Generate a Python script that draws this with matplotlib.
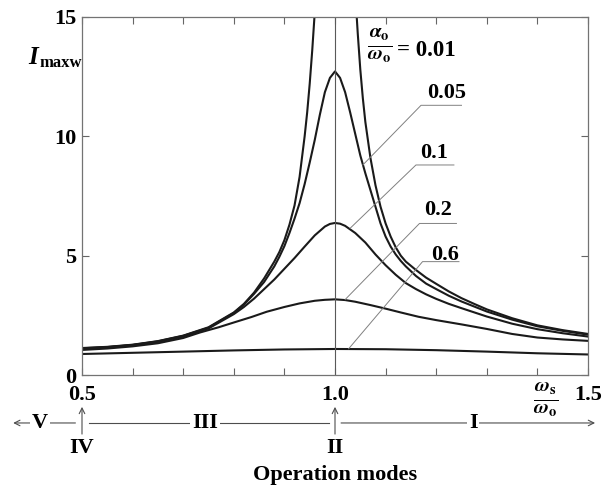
import numpy as np
import matplotlib
matplotlib.use("Agg")
import matplotlib.pyplot as plt

plt.rcParams['font.family'] = ['Liberation Serif', 'DejaVu Serif']
plt.rcParams['font.weight'] = 'bold'
plt.rcParams['mathtext.fontset'] = 'stix'

# ---- data ----
x_001 = [0.50, 0.55, 0.60, 0.65, 0.70, 0.75, 0.80, 0.82, 0.84, 0.86, 0.88, 0.89, 0.90, 0.91, 0.92, 0.93,
         0.94, 0.945, 0.95, 0.955, 0.96, 0.965,
         1.00,
         1.04, 1.045, 1.05, 1.055, 1.06, 1.07, 1.08, 1.09, 1.10, 1.11, 1.12, 1.13, 1.14, 1.16, 1.18, 1.20,
         1.225, 1.25, 1.275, 1.30, 1.35, 1.40, 1.45, 1.50]
y_001 = [1.13, 1.18, 1.27, 1.42, 1.65, 2.00, 2.62, 2.98, 3.45, 4.05, 4.75, 5.15, 5.65, 6.30, 7.10, 8.30,
         10.0, 11.0, 12.2, 13.6, 15.2, 17.0,
         60.0,
         16.0, 14.3, 12.8, 11.6, 10.6, 9.10, 7.95, 7.05, 6.35, 5.80, 5.35, 5.00, 4.75, 4.40, 4.08, 3.82,
         3.50, 3.22, 2.98, 2.75, 2.38, 2.08, 1.88, 1.72]

x_005 = [0.50, 0.55, 0.60, 0.65, 0.70, 0.75, 0.80, 0.82, 0.84, 0.86, 0.88, 0.89, 0.90, 0.91, 0.92, 0.93,
         0.94, 0.95, 0.96, 0.97, 0.98, 0.99, 1.00, 1.01, 1.02, 1.03, 1.04, 1.05, 1.06, 1.07, 1.08, 1.09,
         1.10, 1.11, 1.12, 1.13, 1.14, 1.16, 1.18, 1.20, 1.225, 1.25, 1.275, 1.30, 1.35, 1.40, 1.45, 1.50]
y_005 = [1.12, 1.17, 1.26, 1.41, 1.64, 1.98, 2.60, 2.95, 3.40, 3.90, 4.55, 4.95, 5.40, 5.95, 6.55, 7.20,
         8.00, 8.90, 9.85, 10.9, 11.85, 12.45, 12.72, 12.45, 11.85, 11.0, 10.1, 9.20, 8.45, 7.75, 7.05, 6.35,
         5.80, 5.38, 5.05, 4.78, 4.55, 4.15, 3.83, 3.60, 3.32, 3.08, 2.87, 2.66, 2.32, 2.04, 1.85, 1.69]

x_01 = [0.50, 0.55, 0.60, 0.65, 0.70, 0.75, 0.80, 0.82, 0.84, 0.86, 0.88, 0.90, 0.92, 0.94, 0.96, 0.98,
        0.99, 1.00, 1.01, 1.02, 1.04, 1.06, 1.08, 1.10, 1.12, 1.14, 1.16, 1.18, 1.20, 1.225, 1.25, 1.30,
        1.35, 1.40, 1.45, 1.50]
y_01 = [1.10, 1.16, 1.25, 1.39, 1.61, 1.95, 2.55, 2.85, 3.20, 3.60, 4.00, 4.45, 4.90, 5.38, 5.85, 6.22,
        6.33, 6.37, 6.34, 6.25, 5.95, 5.55, 5.05, 4.60, 4.20, 3.85, 3.60, 3.38, 3.19, 2.98, 2.80, 2.45,
        2.15, 1.92, 1.75, 1.61]

x_02 = [0.50, 0.55, 0.60, 0.65, 0.70, 0.733, 0.77, 0.80, 0.835, 0.865, 0.90, 0.93, 0.96, 0.98, 1.00, 1.02,
        1.04, 1.07, 1.10, 1.13, 1.165, 1.20, 1.25, 1.30, 1.35, 1.40, 1.45, 1.50]
y_02 = [1.05, 1.11, 1.20, 1.33, 1.55, 1.78, 2.00, 2.20, 2.43, 2.65, 2.85, 3.00, 3.11, 3.15, 3.17, 3.14,
        3.07, 2.93, 2.78, 2.62, 2.44, 2.30, 2.12, 1.93, 1.72, 1.57, 1.49, 1.43]

x_06 = [0.50, 0.60, 0.70, 0.80, 0.90, 1.00, 1.10, 1.20, 1.30, 1.40, 1.50]
y_06 = [0.88, 0.93, 0.98, 1.03, 1.07, 1.09, 1.08, 1.04, 0.98, 0.91, 0.86]

series = [(x_001, y_001), (x_005, y_005), (x_01, y_01), (x_02, y_02), (x_06, y_06)]

curve_labels = ['0.05', '0.1', '0.2', '0.6']
label_text_pos = [(1.182, 11.4), (1.168, 8.9), (1.176, 6.5), (1.19, 4.6)]
label_line_start = [(1.17, 11.3), (1.16, 8.8), (1.167, 6.35), (1.173, 4.75)]
label_line_end = [(1.055, 8.8), (1.03, 6.15), (1.02, 3.16), (1.027, 1.1)]
label_line_right = [(1.25, 11.3), (1.235, 8.8), (1.24, 6.35), (1.245, 4.75)]

x_ticks = [0.5, 0.6, 0.7, 0.8, 0.9, 1.0, 1.1, 1.2, 1.3, 1.4, 1.5]
x_ticklabels = ['0.5', '', '', '', '', '1.0', '', '', '', '', '1.5']
y_ticks = [0, 5, 10, 15]
y_ticklabels = ['0', '5', '10', '15']

modes = ['V', 'III', 'I']
mode_x = [0.417, 0.743, 1.273]
mode_marks = ['IV', 'II']
mode_mark_x = [0.5, 1.0]

# ---- figure ----
fig = plt.figure(figsize=(6.12, 4.86), dpi=100)
ax = fig.add_axes([82/612, 1-375/486, (588-82)/612, (375-17)/486])

for xs, ys in series:
    ax.plot(xs, ys, color='#1a1a1a', lw=1.5, solid_joinstyle='round', solid_capstyle='round')

ax.axvline(1.0, color='0.35', lw=0.8)
ax.set_xlim(0.5, 1.5)
ax.set_ylim(0, 15)

for sp in ax.spines.values():
    sp.set_color('0.45')
    sp.set_linewidth(0.9)

ax.set_xticks(x_ticks)
ax.set_xticklabels(x_ticklabels, fontsize=16, fontweight='bold')
ax.set_yticks(y_ticks)
ax.set_yticklabels(y_ticklabels, fontsize=16, fontweight='bold')
ax.tick_params(direction='in', length=5, width=0.8, color='0.4', top=True, right=True)
ax.tick_params(axis='x', pad=7)
ax.tick_params(axis='y', pad=4)

# curve labels with leader lines
for lab, tp, ls, le, lr in zip(curve_labels, label_text_pos, label_line_start, label_line_end, label_line_right):
    ax.plot([le[0], ls[0], lr[0]], [le[1], ls[1], lr[1]], color='0.5', lw=0.7)
    ax.text(tp[0], tp[1], lab, fontsize=16, fontweight='bold', ha='left', va='bottom')

ax.text(1.089, 13.8, r'$\frac{\alpha_\mathrm{o}}{\omega_\mathrm{o}}$', fontsize=21, ha='center', va='center')
ax.text(1.123, 13.6, '= 0.01', fontsize=16.5, fontweight='bold', ha='left', va='center')

# axis labels
fig.text(33/612, 1-57/486, 'I', fontsize=18, fontweight='bold', style='italic', ha='center', va='center')
fig.text(40/612, 1-63/486, 'maxw', fontsize=12, fontweight='bold', ha='left', va='center')
ax.text(1.417, -0.07, r'$\frac{\omega_\mathrm{s}}{\omega_\mathrm{o}}$', fontsize=21, ha='center', va='center',
        transform=ax.get_xaxis_transform())

# operation-mode axis below
tr = ax.get_xaxis_transform()
yl = -0.134
ax.annotate('', xy=(0.364, yl), xytext=(0.487, yl), xycoords=tr, textcoords=tr,
            arrowprops=dict(arrowstyle='->', lw=0.8, color='0.3', shrinkA=0, shrinkB=0))
ax.annotate('', xy=(1.514, yl), xytext=(1.012, yl), xycoords=tr, textcoords=tr,
            arrowprops=dict(arrowstyle='->', lw=0.8, color='0.3', shrinkA=0, shrinkB=0))
ax.plot([0.513, 0.988], [yl, yl], transform=tr, clip_on=False, color='0.3', lw=0.8)
for m, mx in zip(modes, mode_x):
    ax.text(mx, yl, m, transform=tr, fontsize=16, fontweight='bold', ha='center', va='center',
            bbox=dict(facecolor='white', edgecolor='none', pad=1.5))
for m, mx in zip(mode_marks, mode_mark_x):
    ax.annotate('', xy=(mx, -0.089), xytext=(mx, -0.165), xycoords=tr, textcoords=tr,
                arrowprops=dict(arrowstyle='->', lw=0.8, color='0.3', shrinkA=0, shrinkB=0))
    ax.text(mx, -0.205, m, transform=tr, fontsize=16, fontweight='bold', ha='center', va='center')
ax.text(1.0, -0.279, 'Operation modes', transform=tr, fontsize=16, fontweight='bold', ha='center', va='center')

fig.savefig('out.png', dpi=100)
